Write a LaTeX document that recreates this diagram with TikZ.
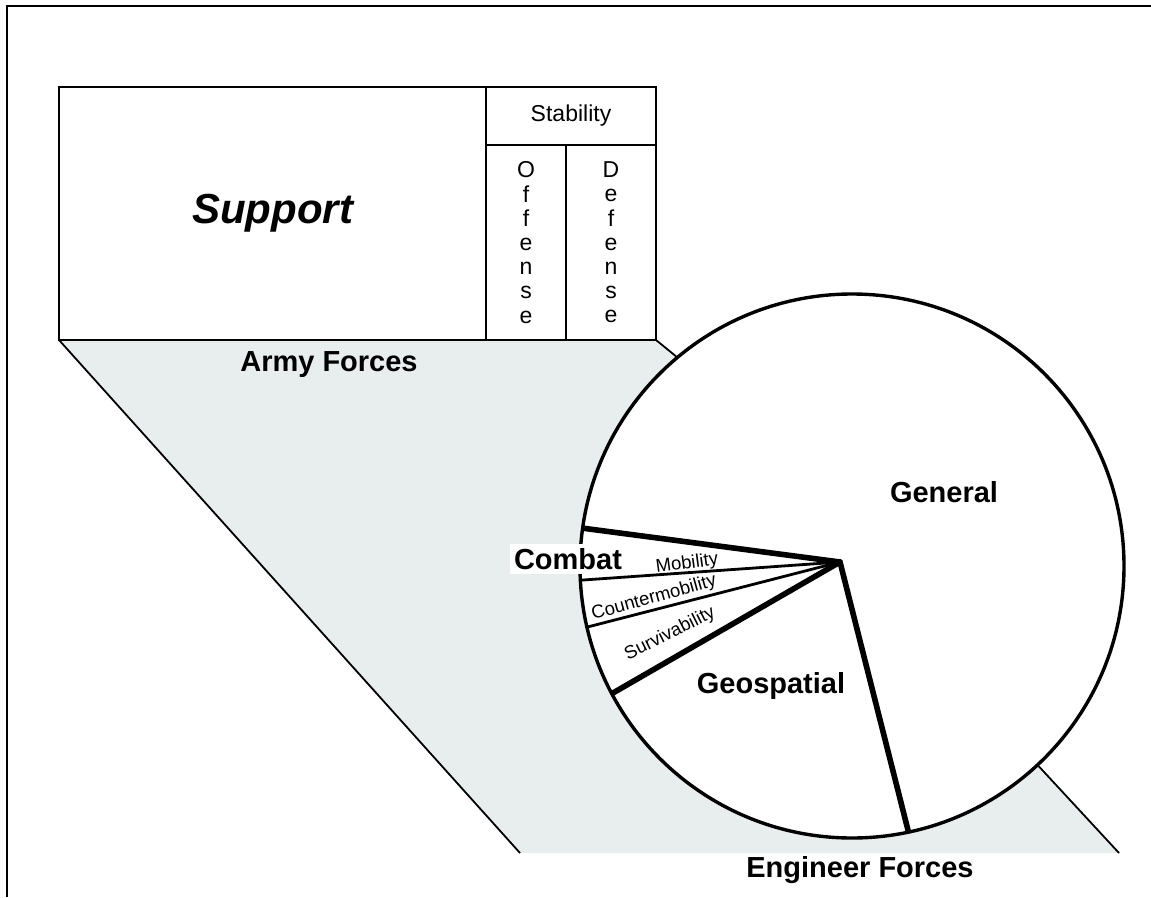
\documentclass[tikz,border=0pt]{standalone}
\usepackage{fontspec}
\setmainfont{Liberation Sans}
\usepackage{tikz}
\usetikzlibrary{shapes}
\usetikzlibrary{positioning}
\usetikzlibrary{calc}
\usetikzlibrary{backgrounds}
\definecolor{zoneshade}{HTML}{E8EDED}

\begin{document}
\begin{tikzpicture}[
  x=1pt, y=-1pt,
  cell/.style 2 args={
    rectangle,
    draw=black,
    fill=white,
    line width=2.4pt,
    minimum width=#1,
    minimum height=#2,
    inner sep=0pt,
    outer sep=0pt},
  big/.style={
    font=\fontsize{29}{31}\selectfont\bfseries},
  mid/.style={
    font=\fontsize{23}{24.2}\selectfont},
  small/.style={
    font=\fontsize{18.5}{20}\selectfont,
    inner sep=0.5pt},
  edge/.style={
    line width=1.8pt},
  wedge/.style={
    line width=#1,
    line cap=round,
    shorten >=3pt},
]

  \useasboundingbox (0,0) rectangle (1151,897);

    % Frame
    \draw[line width=2.6pt] (7,897) -- (7,6) -- (1151,6);

    % Army forces table
    \node[cell={427pt}{253pt}, font=\fontsize{42}{44}\selectfont\bfseries\itshape] 
        (support) at (272.5,213.5) {Support};
    \node[cell={170pt}{58pt}, mid, anchor=north west] 
        (stab) at (support.north east) {Stability};
    \node[cell={80pt}{195pt}, mid, align=center, anchor=north west] 
        (off) at (stab.south west) {O\\f\\f\\e\\n\\s\\e};
    \node[cell={90pt}{195pt}, mid, align=center, anchor=north west] 
        (def) at (off.north east) {D\\e\\f\\e\\n\\s\\e};

    % Engineer forces pie
    \node[circle, draw=black, fill=white, line width=3.4pt, 
          minimum size=544pt, inner sep=0pt] (pie) at (852,566) {};
    \coordinate (hub) at (840,562);

    \foreach \ang/\w in {172.8/5.6pt, 183.8/2.8pt, 193.8/2.8pt, 208.5/5.6pt, 282.7/5.6pt} {
        \draw[wedge=\w] (hub) -- (pie.\ang);
    }

    % Zoom band
    \coordinate (bandL) at (520,853);
    \coordinate (bandR) at (1119,853);
    \begin{pgfonlayer}{background}
        \fill[zoneshade] (support.south west) -- (def.south east) -- (pie.130.5) 
            -- (pie.313.4) -- (bandR) -- (bandL) -- cycle;
    \end{pgfonlayer}
    \draw[edge] (support.south west) -- (bandL);
    \draw[edge] (def.south east) -- (pie.130.5);
    \draw[edge] (pie.313.4) -- (bandR);

    % Labels
    \node[big, anchor=base] (army) at (329,371) {Army Forces};
    \node[big, anchor=base] (engineer) at (860,877) {Engineer Forces};
    \node[big, anchor=base] (general) at (944,502) {General};
    \node[big, anchor=base] (geo) at (771,693) {Geospatial};
    \node[big, fill=white, inner sep=4.5pt] (combat) at (568,559) {Combat};

    \node[small, rotate=7.5] (mob) at (687,564) {Mobility};
    \node[small, rotate=15.6] (cmob) at (654,598) {Countermobility};
    \node[small, rotate=26.6] (surv) at (670,634) {Survivability};

\end{tikzpicture}
\end{document}
